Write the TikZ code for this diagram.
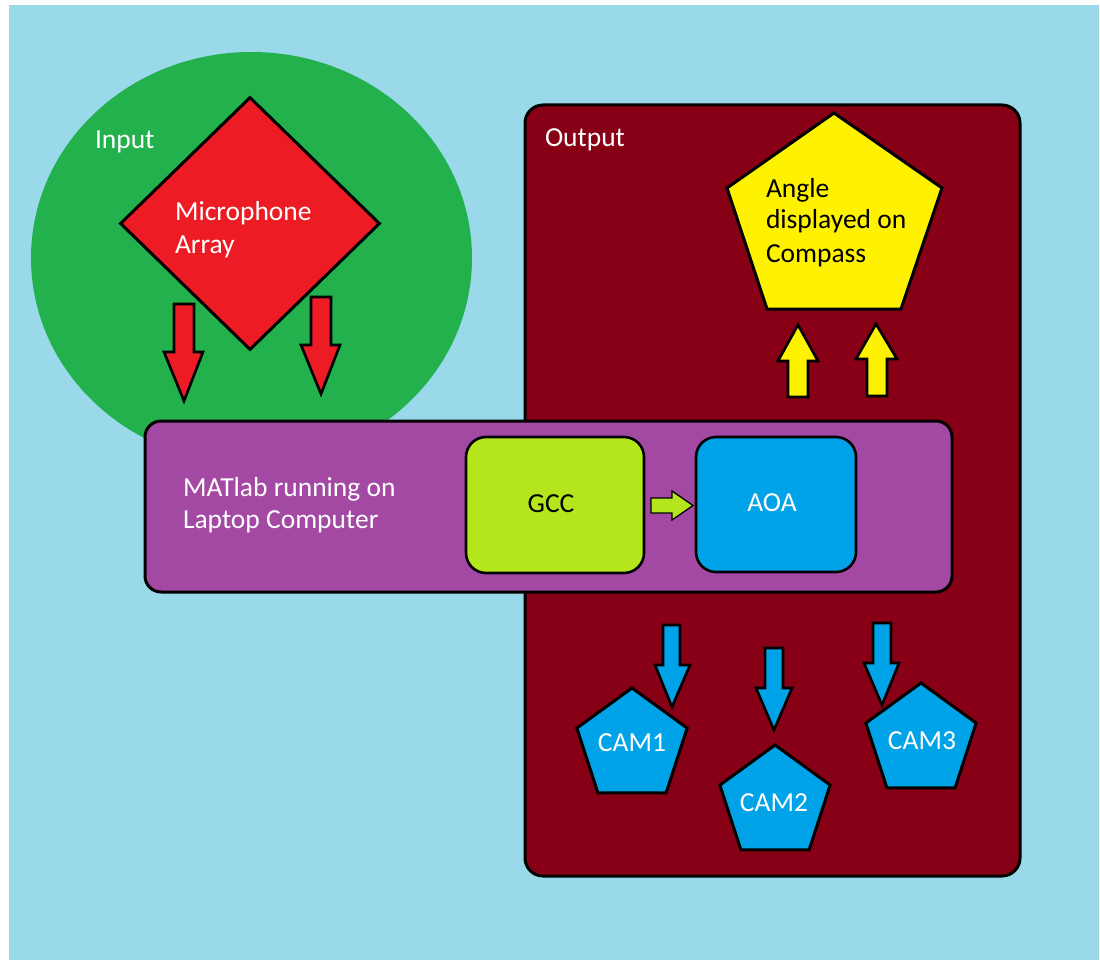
\documentclass[tikz,border=0pt]{standalone}
\usepackage{fontspec}
\setmainfont{Carlito}
\usetikzlibrary{shapes.geometric}
\definecolor{bgblue}{HTML}{99D9EA}
\definecolor{ingreen}{HTML}{22B14C}
\definecolor{micred}{HTML}{ED1C24}
\definecolor{outred}{HTML}{880015}
\definecolor{matpurple}{HTML}{A349A4}
\definecolor{gcclime}{HTML}{B5E61D}
\definecolor{aoablue}{HTML}{00A2E8}
\definecolor{compyellow}{HTML}{FFF200}
\tikzset{
  lbl/.style={font=\fontsize{27.5}{33}\selectfont, inner sep=0pt, outer sep=0pt, anchor=base west},
  clbl/.style={lbl, anchor=base},
  rbox/.style={rectangle, draw=black, line width=3pt, inner sep=0pt},
  blockarrow/.style={draw=black, line width=2.6pt},
  campent/.style={regular polygon, regular polygon sides=5, draw=black, line width=3pt,
    fill=aoablue, minimum size=116pt, inner sep=0pt}
}
\begin{document}
\begin{tikzpicture}[x=1pt,y=-1pt]
\useasboundingbox (0,0) rectangle (1100,960);
\fill[white] (0,0) rectangle (1100,960);
\fill[bgblue] (9,5) rectangle (1099,960);

% input region
\node[ellipse, fill=ingreen, minimum width=441pt, minimum height=412pt, inner sep=0pt] (input) at (251.5,258) {};
\node[lbl, white] (inputlbl) at (95,149) {Input};

% output region
\node[rbox, rounded corners=18pt, fill=outred, minimum width=495pt, minimum height=771pt] (output) at (772.5,490.5) {};
\node[lbl, white] (outputlbl) at (545,147) {Output};

% microphone array
\node[diamond, draw=black, line width=3pt, fill=micred, minimum width=260pt, minimum height=253pt, inner sep=0pt] (mic) at (250,223.5) {};
\node[lbl, white] (mic1) at (175,220) {Microphone};
\node[lbl, white] (mic2) at (175,253) {Array};

% red arrows
\draw[blockarrow, fill=micred] (174,304) -- (194,304) -- (194,352) -- (203,352) -- (184,401) -- (164,352) -- (174,352) -- cycle;
\draw[blockarrow, fill=micred] (311,297) -- (331,297) -- (331,345) -- (340,345) -- (321,394) -- (301,345) -- (311,345) -- cycle;

% compass pentagon
\draw[line width=3pt, fill=compyellow] (834,113) -- (942,188) -- (901,309) -- (767,309) -- (727,188) -- cycle;
\node[lbl, black] (comp1) at (766,197) {Angle};
\node[lbl, black] (comp2) at (766,229) {displayed on};
\node[lbl, black] (comp3) at (766,262) {Compass};

% yellow arrows
\draw[blockarrow, fill=compyellow] (798,325) -- (818,361) -- (808,361) -- (808,397) -- (788,397) -- (788,361) -- (778,361) -- cycle;
\draw[blockarrow, fill=compyellow] (876,324) -- (897,359) -- (887,359) -- (887,396) -- (867,396) -- (867,359) -- (856,359) -- cycle;

% MATlab box
\node[rbox, rounded corners=16pt, fill=matpurple, minimum width=807pt, minimum height=171pt] (matlab) at (548.5,506.5) {};
\node[lbl, white] (mat1) at (183,496) {MATlab running on};
\node[lbl, white] (mat2) at (183,528) {Laptop Computer};

\node[rbox, line width=2.6pt, rounded corners=20pt, fill=gcclime, minimum width=178pt, minimum height=136pt] (gcc) at (555,505) {};
\node[clbl, black] (gcclbl) at (551,512) {GCC};
\node[rbox, line width=2.6pt, rounded corners=20pt, fill=aoablue, minimum width=160pt, minimum height=135pt] (aoa) at (776,504.5) {};
\node[clbl, white] (aoalbl) at (772,511) {AOA};

% green arrow GCC -> AOA
\draw[draw=black, line width=1.3pt, fill=gcclime] (651,498) -- (672,498) -- (672,491) -- (693,505.5) -- (672,520) -- (672,513) -- (651,513) -- cycle;

% cameras
\node[campent] (cam1) at (632,746) {};
\node[clbl, white] (cam1lbl) at (632,751) {CAM1};
\node[campent] (cam2) at (775,803) {};
\node[clbl, white] (cam2lbl) at (774,811) {CAM2};
\node[campent] (cam3) at (921,741) {};
\node[clbl, white] (cam3lbl) at (922,749) {CAM3};

% blue arrows
\draw[blockarrow, fill=aoablue] (663,625) -- (680,625) -- (680,665) -- (690,665) -- (672,707) -- (655,665) -- (663,665) -- cycle;
\draw[blockarrow, fill=aoablue] (765,648) -- (783,648) -- (783,688) -- (792,688) -- (774,730) -- (756,688) -- (765,688) -- cycle;
\draw[blockarrow, fill=aoablue] (873,623) -- (891,623) -- (891,663) -- (899,663) -- (882,705) -- (864,663) -- (873,663) -- cycle;
\end{tikzpicture}
\end{document}
